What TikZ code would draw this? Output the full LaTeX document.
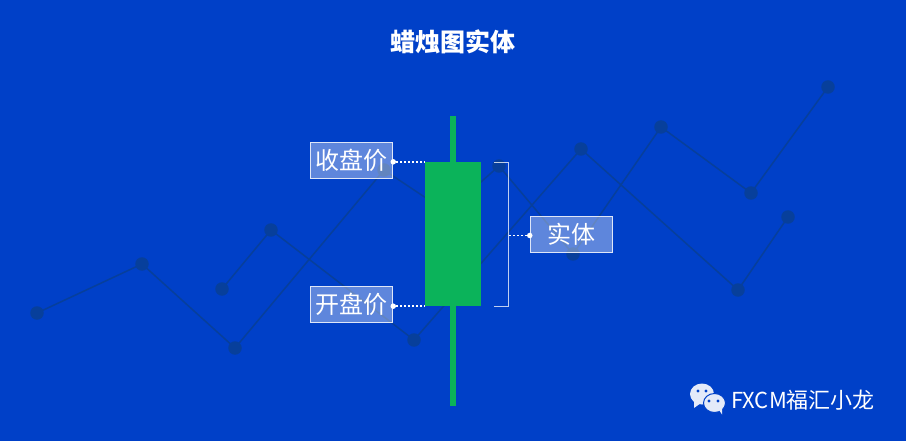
\documentclass[tikz,border=0pt]{standalone}
\usepackage{fontspec}
\setmainfont{Noto Sans CJK SC}
\usetikzlibrary{positioning}
\definecolor{bgblue}{HTML}{0040C8}
\definecolor{bgmark}{HTML}{073F9B}
\definecolor{candle}{HTML}{0BB35A}
\definecolor{iconwhite}{HTML}{E4EAF9}
\tikzset{
  bgdot/.style={circle,fill=bgmark,inner sep=0pt,minimum size=13.5pt},
  bgline/.style={draw=bgmark,line width=1.5pt},
  label/.style={draw=white,draw opacity=0.8,line width=1pt,fill=white,fill opacity=0.37,text opacity=1,
    text=white,minimum width=82.5pt,minimum height=36.5pt,inner sep=0pt,font=\fontsize{24}{24}\selectfont},
  link/.style={draw=white,line width=1.6pt,dash pattern=on 2pt off 2pt},
  enddot/.style={circle,fill=white,inner sep=0pt,minimum size=5.5pt}
}
\begin{document}
\begin{tikzpicture}[x=1pt,y=-1pt]
  \fill[bgblue] (0,0) rectangle (906,441);
  \useasboundingbox (0,0) rectangle (906,441);
  % background lines
  \foreach \n/\x/\y in {a1/37/313,a2/142/264,a3/235/348,a4/384/170,a6/499/166,a7/573/254,a8/661/127,a9/751/193,a10/828/87,
                        b1/222/289,b2/271/230,b3/414/340,b4/581/149,b5/738/290,b6/788/217}
    \node[bgdot] (\n) at (\x,\y) {};
  \coordinate (a5) at (447,212);
  \foreach \p/\q in {a1/a2,a2/a3,a3/a4,a4/a5,a5/a6,a6/a7,a7/a8,a8/a9,a9/a10,b1/b2,b2/b3,b3/b4,b4/b5,b5/b6}
    \draw[bgline] (\p.center) -- (\q.center);

  \node[font=\fontsize{25}{25}\selectfont\bfseries,text=white] (title) at (453,42) {蜡烛图实体};

  % candle
  \coordinate (wicktop) at (453,116);
  \coordinate (wickbot) at (453,406);
  \draw[candle,line width=5.4pt] (wicktop) -- (wickbot);
  \node[fill=candle,inner sep=0pt,minimum width=56pt,minimum height=144pt] (body) at (453,234) {};

  % labels
  \node[label] (close) at (351.5,160.5) {收盘价};
  \node[label] (open) at (351.5,304.5) {开盘价};
  \node[label] (part) at (571.5,234.5) {实体};
  \node[enddot] (closedot) at (close.east |- body.north) {};
  \node[enddot] (opendot) at (open.east |- body.south) {};
  \node[enddot] (partdot) at (part.west |- 0,235.5) {};
  \draw[link] (closedot) -- (closedot -| body.west);
  \draw[link] (opendot) -- (opendot -| body.west);

  % bracket
  \coordinate (bra1) at (494,162);
  \coordinate (bra2) at (508,162);
  \coordinate (bra3) at (508,306);
  \coordinate (bra4) at (494,306);
  \draw[white,opacity=0.75,line width=0.8pt] (bra1) -- (bra2) -- (bra3) -- (bra4);
  \draw[link] (partdot) -- (partdot -| bra2);

  % logo
  \fill[iconwhite] (702,394) ellipse (12pt and 10.5pt);
  \fill[iconwhite] (694,401) -- (694,408) -- (701,403) -- cycle;
  \fill[iconwhite,draw=bgblue,line width=1pt] (714.5,403) ellipse (11pt and 9.5pt);
  \fill[iconwhite] (719,410) -- (722,414.5) -- (722,408) -- cycle;
  \foreach \x/\y in {698/391,706/391,709/401,718/401}
    \fill[bgblue] (\x,\y) circle (1.6pt);
  \node[anchor=west,inner sep=0pt,text=white,font=\fontsize{22}{22}\selectfont] (brand) at (731,400) {FXCM福汇小龙};
\end{tikzpicture}
\end{document}
